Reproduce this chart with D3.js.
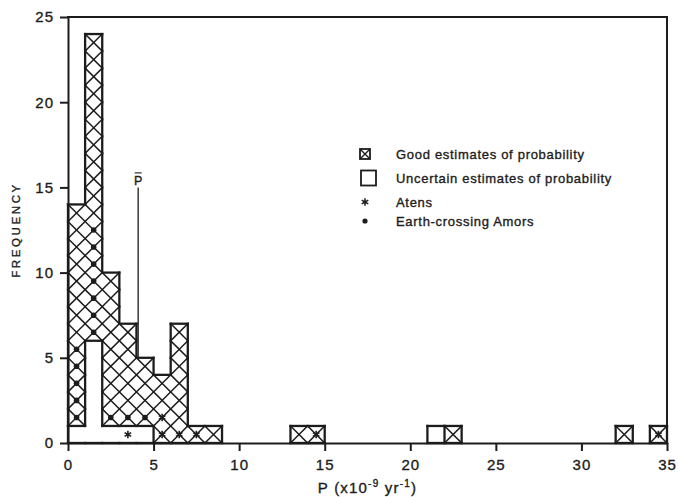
<!DOCTYPE html>
<html>
<head>
<meta charset="utf-8">
<script src="https://cdn.jsdelivr.net/npm/d3@7"></script>
<style>
    body { margin: 0; background: #fff; }
    text { font-family: "Liberation Sans", Arial, sans-serif; fill: #1c1c1c; stroke: #1c1c1c; stroke-width: 0.35px; }
</style>
</head>
<body>
<svg id="chart" width="678" height="497"></svg>
<script>
// Histogram bins, each one unit wide (start value on the P axis)
const binStart = [0, 1, 2, 3, 4, 5, 6, 7, 8, 13, 14, 21, 22, 32, 34];
// Uncertain estimates sit at the bottom of each bin, good estimates on top
const uncertainCount = [1, 6, 1, 1, 1, 0, 0, 0, 0, 0, 0, 1, 0, 0, 0];
const goodCount = [13, 18, 9, 6, 4, 4, 7, 1, 1, 1, 1, 0, 1, 1, 1];

// Marked objects, [P, frequency level]
const atens = [[3.5, 0.5], [5.5, 0.5], [6.5, 0.5], [7.5, 0.5], [5.5, 1.5], [14.5, 0.5], [34.5, 0.5]];
const amors = [
    [0.5, 1.5], [0.5, 2.5], [0.5, 3.5], [0.5, 4.5], [0.5, 5.5],
    [1.5, 6.5], [1.5, 7.5], [1.5, 8.5], [1.5, 9.5], [1.5, 10.5], [1.5, 11.5], [1.5, 12.5],
    [2.5, 1.5], [3.5, 1.5], [4.5, 1.5]
];

const xTicks = [0, 5, 10, 15, 20, 25, 30, 35];
const yTicks = [0, 5, 10, 15, 20, 25];
const pMean = 4.1;
const pMeanTop = 15;

const legendLabels = ['Good estimates of probability', 'Uncertain estimates of probability', 'Atens', 'Earth-crossing Amors'];

const ink = '#1c1c1c';
let margin = {top: 17, right: 11, bottom: 54, left: 68};
let width = 678 - margin.left - margin.right;
let height = 497 - margin.top - margin.bottom;

let svg = d3.select('#chart');

let x = d3.scaleLinear().domain([0, 35]).range([margin.left, margin.left + width]);
let y = d3.scaleLinear().domain([0, 25]).range([margin.top + height, margin.top]);

// Cell type: 0 empty, 1 uncertain, 2 good
function cellType(i, j) {
    let k = binStart.indexOf(i);
    if (k < 0 || j < 0) return 0;
    if (j < uncertainCount[k]) return 1;
    if (j < uncertainCount[k] + goodCount[k]) return 2;
    return 0;
}

// Clip for the hatched (good) part of each bin
let clip = svg.append('defs').append('clipPath').attr('id', 'good-clip');
binStart.forEach(function(b, k) {
    if (goodCount[k] === 0) return;
    clip.append('rect')
        .attr('x', x(b))
        .attr('y', y(uncertainCount[k] + goodCount[k]))
        .attr('width', x(b + 1) - x(b))
        .attr('height', y(uncertainCount[k]) - y(uncertainCount[k] + goodCount[k]));
});

// Cross hatching: lines P +/- f = n
let hatch = svg.append('g').attr('clip-path', 'url(#good-clip)')
    .attr('stroke', ink).attr('stroke-width', 1.5);
for (let n = -25; n <= 60; ++n) {
    hatch.append('line')
        .attr('x1', x(n)).attr('y1', y(0)).attr('x2', x(n + 25)).attr('y2', y(25));
    hatch.append('line')
        .attr('x1', x(n)).attr('y1', y(0)).attr('x2', x(n - 25)).attr('y2', y(25));
}

// Outlines wherever neighbouring cells differ
let segments = [];
for (let i = 0; i <= 35; ++i) {
    for (let j = 0; j <= 25; ++j) {
        if (j < 25 && cellType(i - 1, j) !== cellType(i, j)) {
            segments.push([i, j, i, j + 1]);
        }
        if (i < 35 && cellType(i, j - 1) !== cellType(i, j)) {
            segments.push([i, j, i + 1, j]);
        }
    }
}
svg.append('g')
    .selectAll('line')
    .data(segments)
    .enter()
    .append('line')
    .attr('x1', d => x(d[0])).attr('y1', d => y(d[1]))
    .attr('x2', d => x(d[2])).attr('y2', d => y(d[3]))
    .attr('stroke', ink)
    .attr('stroke-width', 2.3)
    .attr('stroke-linecap', 'square');

// Asterisk marker path centred at 0,0
function asteriskPath(r) {
    let p = '';
    for (let a = 0; a < 3; ++a) {
        let t = Math.PI / 2 + a * Math.PI / 3;
        p += 'M' + (r * Math.cos(t)) + ',' + (r * Math.sin(t)) +
             'L' + (-r * Math.cos(t)) + ',' + (-r * Math.sin(t));
    }
    return p;
}

svg.append('g')
    .selectAll('circle')
    .data(amors)
    .enter()
    .append('circle')
    .attr('cx', d => x(d[0]))
    .attr('cy', d => y(d[1]))
    .attr('r', 2.8)
    .attr('fill', ink);

svg.append('g')
    .selectAll('path')
    .data(atens)
    .enter()
    .append('path')
    .attr('transform', d => 'translate(' + x(d[0]) + ',' + y(d[1]) + ')')
    .attr('d', asteriskPath(3.8))
    .attr('stroke', ink)
    .attr('stroke-width', 1.6)
    .attr('fill', 'none');

// Mean P marker
svg.append('line')
    .attr('x1', x(pMean)).attr('x2', x(pMean))
    .attr('y1', y(goodCount[4] + uncertainCount[4])).attr('y2', y(pMeanTop))
    .attr('stroke', ink).attr('stroke-width', 1.3);
svg.append('text')
    .attr('x', x(pMean)).attr('y', y(pMeanTop) - 2)
    .attr('text-anchor', 'middle')
    .attr('font-size', '12.5px')
    .text('P');
svg.append('line')
    .attr('x1', x(pMean) - 3.5).attr('x2', x(pMean) + 3.5)
    .attr('y1', y(pMeanTop) - 14.5).attr('y2', y(pMeanTop) - 14.5)
    .attr('stroke', ink).attr('stroke-width', 1.1);

// Axes
let xAxis = svg.append('g')
    .attr('transform', 'translate(0,' + y(0) + ')')
    .call(d3.axisBottom(x).tickValues(xTicks).tickSize(8).tickSizeOuter(0).tickPadding(8));
let yAxis = svg.append('g')
    .attr('transform', 'translate(' + x(0) + ',0)')
    .call(d3.axisLeft(y).tickValues(yTicks).tickSize(8).tickSizeOuter(0).tickPadding(6));

[xAxis, yAxis].forEach(function(ax) {
    ax.selectAll('path, line').attr('stroke', ink).attr('stroke-width', 2);
    ax.selectAll('text')
        .attr('font-family', '"Liberation Sans", Arial, sans-serif')
        .attr('font-size', '15px')
        .attr('letter-spacing', '1px')
        .attr('fill', ink)
        .attr('stroke', ink)
        .attr('stroke-width', 0.35);
});

// Frame top and right
svg.append('line')
    .attr('x1', x(0)).attr('x2', x(35)).attr('y1', y(25)).attr('y2', y(25))
    .attr('stroke', ink).attr('stroke-width', 2).attr('stroke-linecap', 'square');
svg.append('line')
    .attr('x1', x(35)).attr('x2', x(35)).attr('y1', y(25)).attr('y2', y(0))
    .attr('stroke', ink).attr('stroke-width', 2);

// Axis titles
svg.append('text')
    .attr('transform', 'translate(20,' + y(12.5) + ') rotate(-90)')
    .attr('text-anchor', 'middle')
    .attr('font-size', '11.5px')
    .attr('letter-spacing', '2.6px')
    .text('FREQUENCY');

let xTitle = svg.append('text')
    .attr('x', x(17.5))
    .attr('y', 493)
    .attr('text-anchor', 'middle')
    .attr('font-size', '15px')
    .attr('letter-spacing', '1.2px');
xTitle.append('tspan').text('P (x10');
xTitle.append('tspan').attr('dy', -6).attr('font-size', '10px').text('-9');
xTitle.append('tspan').attr('dy', 6).text(' yr');
xTitle.append('tspan').attr('dy', -6).attr('font-size', '10px').text('-1');
xTitle.append('tspan').attr('dy', 6).text(')');

// Legend
let legendRowY = [154, 178, 202, 221];
let legend = svg.append('g');
legendLabels.forEach(function(label, i) {
    legend.append('text')
        .attr('x', 396)
        .attr('y', legendRowY[i] + 4.8)
        .attr('font-size', '13px')
        .attr('letter-spacing', '0.7px')
        .text(label);
});
legend.append('rect')
    .attr('x', 360).attr('y', legendRowY[0] - 5).attr('width', 10).attr('height', 10)
    .attr('fill', 'none').attr('stroke', ink).attr('stroke-width', 1.8);
legend.append('path')
    .attr('d', 'M360,' + (legendRowY[0] - 5) + 'l10,10M370,' + (legendRowY[0] - 5) + 'l-10,10')
    .attr('stroke', ink).attr('stroke-width', 1.4);
legend.append('rect')
    .attr('x', 361).attr('y', legendRowY[1] - 7.5).attr('width', 15).attr('height', 15)
    .attr('fill', 'none').attr('stroke', ink).attr('stroke-width', 1.8);
legend.append('path')
    .attr('transform', 'translate(365,' + legendRowY[2] + ')')
    .attr('d', asteriskPath(3.8))
    .attr('stroke', ink).attr('stroke-width', 1.5);
legend.append('circle')
    .attr('cx', 365).attr('cy', legendRowY[3]).attr('r', 2.6)
    .attr('fill', ink);
</script>
</body>
</html>
